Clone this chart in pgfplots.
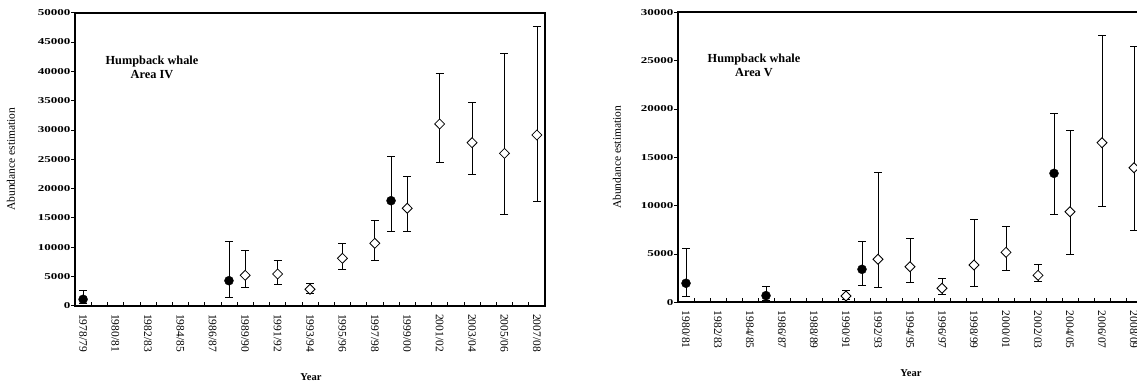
\documentclass[border=0pt]{standalone}
\usepackage{fontspec}
\setmainfont{Liberation Serif}
\newfontfamily\tickfont[FakeStretch=1.45]{Liberation Serif}
\usepackage{pgfplots}
\pgfplotsset{compat=1.18}
\usepackage{pgfplotstable}

\pgfplotstableread{
x y ep em
0 1090 1590 690
9 4270 6770 2790
19 17920 7510 5290
}\fourcirc
\pgfplotstableread{
x y ep em
10 5190 4260 2120
12 5410 2340 1710
14 2800 950 650
16 8090 2560 1880
18 10650 3970 2850
20 16620 5510 3990
22 31010 8650 6540
24 27820 6890 5400
26 26000 17070 10350
28 29130 18480 11380
}\fourdiam
\pgfplotstableread{
x y ep em
0 1970 3620 1320
5 690 930 540
11 3410 2860 1620
23 13340 6210 4240
}\fivecirc
\pgfplotstableread{
x y ep em
10 650 550 400
12 4450 9000 2940
14 3680 2940 1650
16 1450 1060 620
18 3860 4730 2170
20 5170 2650 1830
22 2790 1100 590
24 9370 8380 4370
26 16510 11070 6550
28 13920 12520 6510
}\fivediam

\pgfplotsset{
  whale/.style={
    scale only axis,
    anchor=south west,
    xmin=-0.5, xmax=28.5,
    ymin=0,
    axis line style={line width=2pt, black},
    tick align=inside,
    xtick pos=bottom, ytick pos=left,
    xtick={0,2,...,28},
    major x tick style={draw=none},
    minor xtick={-0.5,0.5,...,28.5},
    minor x tick style={black, line width=0.6pt},
    minor tick length=4pt,
    major tick length=4pt,
    every y tick/.style={black, line width=0.6pt, xshift=-4pt},
    scaled y ticks=false,
    /pgf/number format/assume math mode=true,
    /pgf/number format/1000 sep={},
    yticklabel style={font=\tickfont\bfseries\fontsize{9}{10}\selectfont, xshift=-1pt},
    xticklabel style={font=\fontsize{11.5}{12}\selectfont, rotate=-90, anchor=west, xshift=5pt},
    xlabel={\textbf{Year}},
    xlabel style={font=\fontsize{10.5}{12}\selectfont, at={(axis description cs:0.502,0)}, anchor=center, yshift=-71pt},
    ylabel={Abundance estimation},
    ylabel style={font=\fontsize{11.5}{12}\selectfont, at={(axis description cs:0,0.5)}, anchor=center},
    error bars/y dir=both,
    error bars/y explicit,
    error bars/error bar style={black, line width=0.8pt},
    error bars/error mark options={black, line width=0.8pt, mark size=4pt, rotate=90},
  },
  circ/.style={only marks, mark=*, mark size=4.5pt, mark options={fill=black, draw=black}},
  diam/.style={only marks, mark=diamond*, mark size=5pt, mark options={fill=white, draw=black, line width=0.8pt, xscale=1.33}},
}

\begin{document}
\begin{tikzpicture}
\path[use as bounding box] (0pt,0pt) rectangle (1137pt,385pt);
\clip (0pt,0pt) rectangle (1137pt,385pt);

\begin{axis}[whale,
  at={(75pt,79.3pt)}, width=470pt, height=293pt,
  ymax=50000, ytick={0,5000,...,50000},
  xticklabels={1978/79,1980/81,1982/83,1984/85,1986/87,1989/90,1991/92,1993/94,1995/96,1997/98,1999/00,2001/02,2003/04,2005/06,2007/08},
  ylabel style={yshift=64pt},
]
\addplot[circ] table[x=x, y=y, y error plus=ep, y error minus=em] {\fourcirc};
\addplot[diam] table[x=x, y=y, y error plus=ep, y error minus=em] {\fourdiam};
\node[font=\bfseries\fontsize{12.3}{14}\selectfont, align=center] at (axis cs:4.25,40700) {Humpback whale\\Area IV};
\end{axis}

\begin{axis}[whale,
  at={(678pt,82.7pt)}, width=464pt, height=290pt,
  ymax=30000, ytick={0,5000,...,30000},
  xticklabels={1980/81,1982/83,1984/85,1986/87,1988/89,1990/91,1992/93,1994/95,1996/97,1998/99,2000/01,2002/03,2004/05,2006/07,2008/09},
  ylabel style={yshift=61pt},
]
\addplot[circ] table[x=x, y=y, y error plus=ep, y error minus=em] {\fivecirc};
\addplot[diam] table[x=x, y=y, y error plus=ep, y error minus=em] {\fivediam};
\node[font=\bfseries\fontsize{12.3}{14}\selectfont, align=center] at (axis cs:4.25,24500) {Humpback whale\\Area V};
\end{axis}
\end{tikzpicture}
\end{document}
